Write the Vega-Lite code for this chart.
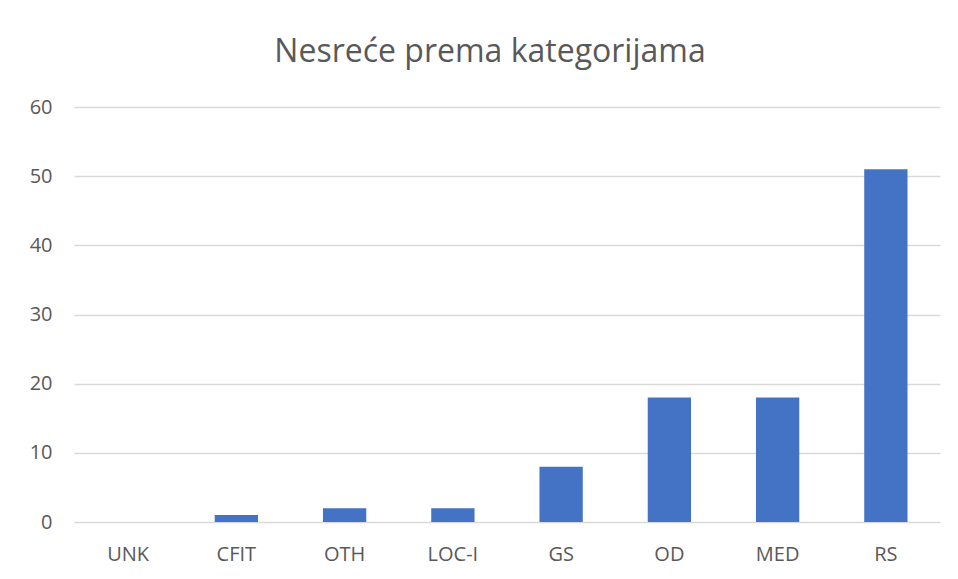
{
  "$schema": "https://vega.github.io/schema/vega-lite/v6.json",
  "width": 866,
  "height": 415,
  "autosize": {"type": "none"},
  "padding": {"left": 74, "top": 107, "right": 18, "bottom": 57},
  "background": "white",
  "title": {
    "text": "Nesreće prema kategorijama",
    "font": "Open Sans",
    "fontSize": 32,
    "fontWeight": "normal",
    "color": "#595959",
    "anchor": "middle",
    "dx": -17,
    "offset": 28
  },
  "data": {
    "values": [
      {"kategorija": "UNK", "broj": 0},
      {"kategorija": "CFIT", "broj": 1},
      {"kategorija": "OTH", "broj": 2},
      {"kategorija": "LOC-I", "broj": 2},
      {"kategorija": "GS", "broj": 8},
      {"kategorija": "OD", "broj": 18},
      {"kategorija": "MED", "broj": 18},
      {"kategorija": "RS", "broj": 51}
    ]
  },
  "mark": {"type": "bar", "color": "#4472C4"},
  "encoding": {
    "x": {
      "field": "kategorija",
      "type": "nominal",
      "sort": null,
      "scale": {"paddingInner": 0.6, "paddingOuter": 0.3},
      "axis": {
        "title": null,
        "labelAngle": 0,
        "labelFont": "Open Sans",
        "labelFontSize": 20,
        "labelColor": "#595959",
        "labelPadding": 22,
        "ticks": false,
        "domain": false,
        "grid": false
      }
    },
    "y": {
      "field": "broj",
      "type": "quantitative",
      "scale": {"domain": [0, 60]},
      "axis": {
        "title": null,
        "values": [0, 10, 20, 30, 40, 50, 60],
        "labelFont": "Open Sans",
        "labelFontSize": 20,
        "labelColor": "#595959",
        "labelPadding": 22,
        "ticks": false,
        "domain": false,
        "grid": true,
        "gridColor": "#d9d9d9",
        "gridWidth": 1.3
      }
    }
  },
  "config": {"view": {"stroke": null}}
}
